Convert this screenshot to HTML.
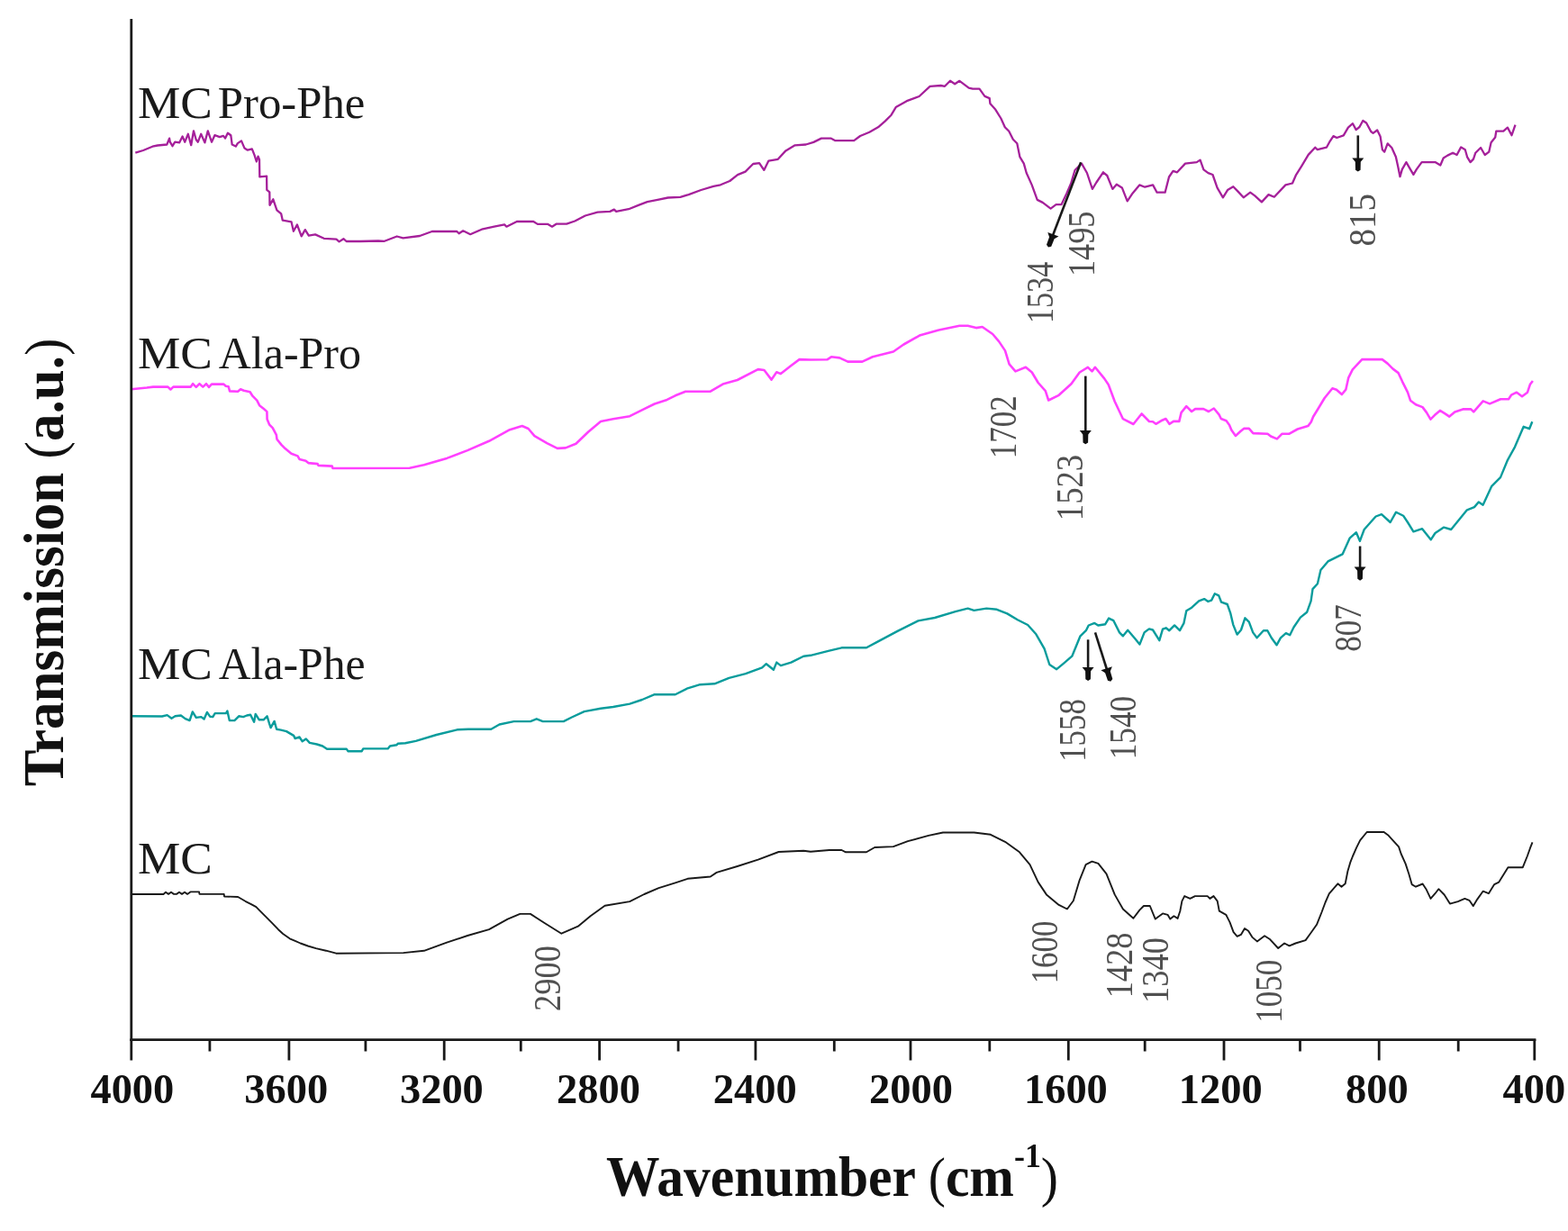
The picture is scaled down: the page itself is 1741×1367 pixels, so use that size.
<!DOCTYPE html>
<html><head><meta charset="utf-8"><title>FTIR spectra</title>
<style>html,body{margin:0;padding:0;background:#fff;width:1741px;height:1367px;overflow:hidden}svg{display:block}</style>
</head><body>
<svg width="1741" height="1367" viewBox="0 0 1741 1367">
<rect width="100%" height="100%" fill="#fff"/>
<polyline points="150.3,169.6 159.0,167.0 169.3,162.7 175.0,161.5 185.3,160.5 188.1,153.6 188.8,157.7 191.5,162.2 194.3,157.7 199.1,158.4 202.6,151.5 205.3,157.7 208.8,148.8 212.2,161.2 215.0,145.3 217.7,155.0 219.8,157.7 223.2,148.8 227.4,158.4 230.8,145.3 235.0,157.7 238.4,150.2 243.9,152.2 248.0,150.9 250.1,153.6 252.9,147.7 256.3,150.2 257.7,160.5 261.8,162.6 263.9,159.1 268.0,156.4 271.5,164.6 274.9,166.7 279.8,165.3 282.5,172.2 284.8,179.5 286.6,173.6 288.0,177.1 288.3,196.4 296.1,195.6 296.3,210.9 299.3,213.3 299.5,227.8 303.3,221.3 307.4,233.4 312.2,237.4 313.8,244.7 323.5,246.3 325.9,256.8 329.9,249.5 334.7,262.4 338.8,255.1 342.8,261.6 350.0,260.4 359.7,264.8 373.4,265.6 376.6,268.4 381.4,265.2 384.6,268.0 400.0,268.0 420.0,267.5 426.9,267.8 440.7,262.5 447.6,264.3 466.0,262.0 479.7,257.0 507.3,257.0 509.6,259.3 514.2,256.3 522.2,260.2 534.9,254.7 548.7,251.7 560.1,249.4 562.4,251.7 573.9,246.0 592.3,246.0 596.9,248.9 608.4,248.9 613.0,251.7 617.6,248.7 629.1,248.7 638.3,245.5 649.8,239.5 663.5,235.6 677.3,234.9 681.9,232.6 684.2,234.9 698.0,232.2 709.5,227.6 718.7,224.1 730.2,221.8 741.7,219.5 755.4,218.8 764.6,216.1 778.4,211.0 792.2,206.9 800.0,205.3 810.3,201.0 819.0,194.1 827.6,190.6 836.2,182.0 843.1,181.1 848.3,188.9 853.4,178.6 863.8,176.8 872.4,167.4 882.7,161.3 894.8,160.5 903.4,157.9 912.0,153.6 922.4,153.6 927.5,156.2 948.2,156.2 955.1,151.0 965.4,146.7 975.8,140.7 982.7,134.6 989.6,127.7 994.7,119.1 1006.8,112.2 1020.6,107.0 1032.6,95.8 1044.7,95.0 1049.0,95.8 1055.0,89.8 1060.2,93.3 1065.4,89.8 1075.7,97.6 1080.0,98.7 1087.5,98.7 1093.4,106.9 1098.7,109.1 1099.4,115.1 1105.4,121.8 1111.4,131.5 1115.8,141.2 1120.3,145.7 1124.8,154.7 1129.3,159.2 1132.3,174.1 1136.8,181.6 1139.7,192.0 1145.7,205.4 1151.7,221.9 1157.7,224.9 1166.6,231.6 1172.6,227.1 1178.6,227.1 1184.5,214.4 1189.0,204.0 1193.5,189.0 1198.0,184.5 1201.0,181.6 1206.9,192.0 1212.9,209.9 1217.4,202.5 1224.9,191.3 1229.3,195.0 1235.3,209.9 1239.8,204.7 1245.8,208.4 1251.7,223.4 1257.7,214.4 1265.2,205.4 1271.2,207.7 1280.1,205.4 1284.6,213.7 1293.6,213.7 1298.0,196.5 1302.5,189.8 1307.0,191.3 1316.0,181.6 1328.8,180.1 1332.6,177.6 1336.4,188.3 1341.5,192.1 1346.5,194.0 1351.6,208.6 1357.9,219.3 1363.0,211.1 1369.3,207.3 1374.3,212.4 1380.7,219.3 1388.2,213.6 1393.3,217.4 1400.9,224.4 1408.5,216.1 1414.8,218.7 1427.4,205.4 1435.0,203.5 1438.8,194.7 1445.1,184.6 1452.7,171.9 1460.3,163.7 1462.8,166.2 1472.9,163.7 1476.7,156.8 1480.5,151.1 1484.3,153.0 1491.8,150.4 1496.9,141.6 1502.0,137.2 1505.7,144.1 1509.5,141.0 1513.3,134.0 1517.1,136.5 1522.2,146.0 1524.6,147.9 1529.2,144.5 1532.6,151.4 1534.9,166.3 1537.2,168.6 1540.7,159.4 1545.3,164.0 1549.9,174.3 1552.2,184.7 1554.5,196.2 1556.8,188.1 1561.4,180.1 1566.0,188.1 1569.4,193.9 1572.8,188.1 1578.6,180.1 1593.5,180.1 1599.3,183.5 1602.7,175.5 1607.3,172.6 1613.1,169.7 1617.6,172.0 1622.2,163.4 1626.8,166.3 1629.1,174.3 1632.6,180.1 1636.0,176.6 1638.3,169.7 1644.1,164.0 1648.7,172.0 1653.3,168.6 1655.6,158.2 1660.2,152.5 1661.3,145.6 1669.3,145.6 1673.9,141.6 1678.5,150.2 1682.5,138.7" fill="none" stroke="#a5209a" stroke-width="2.3" stroke-linejoin="round"/>
<polyline points="145.7,432.3 163.0,430.5 170.0,429.6 186.4,429.6 189.4,432.5 192.4,429.6 211.8,429.6 214.1,426.2 217.8,429.9 221.5,426.2 225.3,429.6 229.0,426.2 232.0,429.9 235.0,426.6 248.4,426.6 250.7,428.8 253.6,429.2 255.1,434.4 264.1,434.8 267.1,432.2 270.8,433.7 277.6,435.2 280.4,439.7 285.3,444.6 288.1,450.2 292.9,454.0 296.4,457.1 296.6,465.4 299.2,471.7 302.7,475.2 306.8,482.8 307.5,487.7 312.4,493.9 316.6,498.1 323.5,503.7 330.5,506.4 332.5,509.9 339.5,511.7 342.3,514.1 352.7,515.1 353.4,516.9 368.7,517.6 369.4,520.0 380.0,520.0 454.8,519.7 470.8,516.2 496.1,508.9 519.1,500.1 543.0,489.8 566.0,477.2 579.7,473.0 586.6,476.0 593.5,484.1 607.3,492.1 618.8,497.9 628.0,497.4 639.5,492.8 653.3,479.5 667.0,468.0 680.8,465.2 699.2,462.2 715.3,454.2 726.8,448.5 740.6,443.9 749.8,439.3 761.2,434.7 788.8,434.7 802.6,426.6 818.7,422.0 841.7,410.1 848.5,411.0 856.6,421.6 862.3,413.3 866.9,415.1 878.4,406.0 887.6,399.1 900.0,399.5 918.4,399.3 923.0,396.3 932.2,397.4 941.4,401.6 957.4,401.6 968.9,396.3 991.9,390.5 1003.4,382.5 1021.8,372.2 1042.4,366.4 1065.4,361.8 1074.6,361.8 1083.8,364.1 1090.7,363.0 1102.2,371.0 1109.1,379.1 1116.0,389.4 1120.6,404.3 1127.5,412.4 1138.9,407.8 1145.8,413.5 1152.7,425.0 1160.8,434.2 1164.2,444.5 1175.7,438.8 1189.5,426.2 1198.7,413.5 1207.9,407.8 1212.5,412.4 1215.9,407.8 1226.2,420.4 1230.8,427.3 1237.7,445.7 1246.9,465.2 1258.4,471.0 1267.6,459.5 1276.0,468.0 1280.0,468.3 1283.4,470.8 1289.2,467.3 1294.4,465.0 1298.4,470.8 1303.0,467.9 1309.3,467.9 1311.6,458.1 1317.3,451.2 1323.1,457.0 1327.1,454.1 1336.3,454.1 1342.0,457.0 1347.8,453.5 1353.5,460.4 1355.8,465.0 1361.6,467.3 1365.0,471.9 1367.3,477.6 1371.9,484.0 1377.6,478.8 1381.1,475.9 1386.8,475.9 1391.4,481.1 1407.5,481.7 1411.0,484.5 1417.9,487.4 1423.6,481.7 1431.6,481.7 1440.8,476.5 1452.3,473.1 1455.8,468.5 1458.1,462.7 1463.8,453.5 1470.7,442.0 1479.4,431.2 1483.9,432.7 1489.9,438.0 1494.3,432.7 1497.3,419.3 1501.8,410.3 1512.3,399.1 1534.7,399.1 1540.6,403.6 1546.6,409.6 1552.6,414.1 1557.1,423.8 1563.0,435.7 1566.0,444.7 1572.0,449.2 1579.5,452.1 1584.0,458.1 1588.4,465.6 1592.9,461.1 1598.9,455.9 1604.9,459.6 1609.3,462.6 1615.3,457.4 1624.3,454.4 1633.2,454.4 1636.2,457.4 1646.7,445.4 1654.1,448.4 1666.1,443.2 1675.0,443.2 1678.0,438.7 1684.0,435.7 1690.0,440.2 1696.0,435.7 1699.0,426.7 1701.9,423.0" fill="none" stroke="#ff40ff" stroke-width="2.6" stroke-linejoin="round"/>
<polyline points="145.7,795.3 180.0,795.5 185.6,794.1 190.5,797.7 194.5,795.3 200.9,794.5 205.7,798.1 210.6,800.1 213.8,790.5 217.8,796.9 223.4,796.1 226.6,798.5 229.9,790.9 233.1,795.7 236.3,796.1 238.7,792.1 250.8,792.1 252.4,789.6 254.8,800.1 260.4,800.1 265.2,795.3 270.1,796.1 274.1,794.5 278.1,793.7 282.1,801.7 283.7,792.9 287.8,799.3 292.6,799.3 296.6,795.3 299.0,803.3 300.6,808.1 304.6,800.9 307.1,809.8 311.9,810.6 318.0,812.1 326.1,816.9 327.7,820.1 332.5,818.5 335.7,823.3 339.8,820.5 343.8,824.9 351.8,826.5 358.2,828.5 363.1,831.8 384.8,831.8 386.4,834.2 401.7,834.2 403.3,831.4 430.6,831.4 433.0,828.5 440.3,827.3 441.9,825.7 450.0,825.2 461.7,822.9 484.6,816.0 507.6,810.3 520.0,809.8 545.3,809.8 554.5,804.5 570.5,801.1 588.9,801.1 595.8,798.3 602.7,801.1 625.7,801.1 634.9,796.5 648.7,790.1 667.0,786.8 680.8,785.0 699.2,781.6 713.0,777.0 726.8,771.2 749.8,771.2 763.5,764.3 777.3,760.2 793.4,759.3 809.5,752.8 827.9,748.2 846.2,741.4 850.8,737.2 858.9,743.7 862.3,735.6 866.9,739.1 878.4,735.6 892.2,728.7 900.0,727.8 920.7,722.7 934.5,719.3 962.0,719.3 973.5,713.1 996.5,700.9 1019.5,689.4 1037.9,686.0 1060.8,679.1 1074.6,675.6 1081.5,677.9 1095.3,675.6 1106.8,676.8 1118.3,681.4 1129.8,688.2 1141.2,694.0 1150.4,704.3 1159.6,720.4 1165.3,738.0 1173.2,743.2 1181.1,736.6 1190.3,728.7 1199.5,706.3 1206.1,699.8 1208.7,694.5 1215.3,691.9 1219.3,694.5 1227.2,693.2 1231.1,686.6 1236.4,689.2 1243.0,702.4 1246.9,706.3 1252.2,699.8 1260.1,709.0 1265.4,715.6 1270.6,702.4 1275.9,698.4 1280.0,699.5 1287.3,711.2 1291.0,698.7 1294.6,697.3 1298.3,700.2 1304.1,694.4 1310.0,700.2 1314.4,692.2 1317.3,678.3 1322.4,675.3 1331.2,667.3 1337.1,665.1 1341.4,668.0 1345.1,666.6 1348.8,659.2 1353.2,661.4 1356.1,668.7 1362.7,671.0 1366.3,681.2 1369.2,693.6 1373.6,704.6 1378.0,699.5 1382.4,686.3 1386.8,690.7 1391.2,702.4 1395.6,708.3 1402.9,700.2 1407.3,700.2 1411.7,708.3 1417.5,716.3 1421.9,708.3 1427.8,703.1 1432.2,705.3 1436.5,696.5 1443.9,685.6 1451.2,679.7 1455.6,667.3 1457.5,654.1 1462.9,648.3 1466.4,633.1 1474.5,623.4 1484.1,618.6 1490.6,615.4 1498.6,597.7 1505.9,591.2 1509.9,600.9 1514.7,588.0 1527.6,573.5 1534.0,571.1 1543.7,580.0 1550.1,568.7 1558.1,572.7 1563.0,580.0 1569.4,590.4 1579.1,587.2 1588.7,599.3 1593.5,592.0 1603.2,585.6 1611.2,588.0 1628.9,566.3 1637.0,563.1 1641.8,557.5 1646.6,560.7 1656.3,539.8 1666.0,530.1 1674.0,510.8 1682.0,496.3 1691.7,473.8 1698.1,476.2 1701.3,468.2" fill="none" stroke="#0a9c9c" stroke-width="2.4" stroke-linejoin="round"/>
<polyline points="145.7,993.0 181.5,993.0 184.0,990.8 187.0,992.9 190.0,990.8 193.0,992.9 196.0,992.9 199.0,990.8 202.0,992.9 205.0,990.8 208.0,992.9 211.4,990.4 221.1,990.4 221.5,992.9 248.7,992.9 249.0,995.5 264.2,996.0 272.4,1000.8 278.4,1003.8 284.4,1007.2 288.8,1011.7 294.8,1017.6 301.5,1024.4 309.0,1032.2 314.2,1037.0 321.7,1042.3 327.7,1044.9 333.6,1047.5 341.9,1050.5 350.8,1053.1 362.0,1055.7 373.2,1058.7 447.9,1058.1 470.8,1055.8 496.1,1046.6 519.1,1039.0 543.0,1032.1 563.7,1020.6 577.4,1014.9 588.9,1014.9 605.0,1025.2 623.4,1036.7 641.8,1028.7 655.6,1017.2 671.6,1005.7 699.2,1001.1 715.3,993.0 731.4,986.2 749.8,980.4 763.5,975.8 788.8,973.5 795.7,968.9 818.7,962.0 841.7,954.7 864.6,946.0 892.2,944.8 900.0,945.8 920.7,944.0 934.5,944.0 939.1,946.3 962.0,946.3 971.2,941.0 991.9,940.1 1008.0,934.1 1031.0,927.9 1047.0,924.5 1081.5,924.5 1099.9,926.8 1116.0,934.8 1132.0,946.3 1143.5,960.1 1152.7,979.6 1161.9,993.4 1175.7,1004.9 1184.9,1009.5 1191.8,1000.3 1198.7,977.3 1205.6,960.1 1212.5,956.6 1219.4,958.9 1228.5,970.4 1237.7,993.4 1246.9,1009.5 1258.4,1019.8 1265.3,1010.6 1269.9,1006.0 1276.8,1006.0 1282.8,1020.6 1291.0,1014.4 1296.5,1015.8 1299.3,1020.6 1303.4,1017.2 1307.6,1019.9 1310.3,1011.7 1312.4,1000.6 1315.2,995.1 1321.4,997.9 1326.9,995.1 1340.7,995.1 1343.4,997.9 1347.5,995.1 1351.7,1000.6 1353.8,1011.7 1361.3,1015.8 1365.5,1024.1 1369.6,1035.1 1373.7,1039.9 1377.9,1037.9 1382.0,1031.0 1386.1,1033.7 1390.3,1040.6 1395.8,1045.4 1404.1,1039.2 1409.6,1042.7 1419.2,1053.0 1426.1,1047.5 1431.6,1050.3 1438.5,1047.5 1449.6,1044.1 1455.1,1036.5 1462.0,1026.8 1467.5,1013.0 1471.6,1002.0 1475.8,992.4 1485.4,981.3 1489.5,984.8 1493.7,981.3 1496.4,967.5 1499.2,957.9 1501.9,951.0 1506.1,941.4 1510.2,933.1 1517.7,924.0 1536.6,924.0 1541.7,927.8 1553.1,940.4 1555.6,948.0 1560.7,959.4 1564.4,970.8 1567.6,982.1 1572.0,984.7 1579.6,981.5 1583.4,987.2 1588.5,997.9 1593.5,992.2 1597.3,987.2 1603.6,993.5 1609.9,1003.6 1618.8,1001.1 1626.4,997.9 1631.4,999.8 1635.8,1006.1 1640.3,998.6 1646.6,989.7 1652.9,992.2 1659.2,982.1 1664.3,979.6 1674.4,963.2 1690.8,963.2 1695.9,950.5 1699.0,941.7 1701.5,935.4" fill="none" stroke="#1a1a1a" stroke-width="1.9" stroke-linejoin="round"/>
<g stroke="#1a1a1a" stroke-width="2.8" fill="none">
<line x1="145.8" y1="21" x2="145.8" y2="1156"/>
<line x1="144.4" y1="1154.6" x2="1705.4" y2="1154.6"/>
<line x1="145.8" y1="1154" x2="145.8" y2="1177.5"/>
<line x1="320.9" y1="1154" x2="320.9" y2="1177.5"/>
<line x1="493.2" y1="1154" x2="493.2" y2="1177.5"/>
<line x1="665.6" y1="1154" x2="665.6" y2="1177.5"/>
<line x1="838.9" y1="1154" x2="838.9" y2="1177.5"/>
<line x1="1011.0" y1="1154" x2="1011.0" y2="1177.5"/>
<line x1="1186.3" y1="1154" x2="1186.3" y2="1177.5"/>
<line x1="1359.0" y1="1154" x2="1359.0" y2="1177.5"/>
<line x1="1531.2" y1="1154" x2="1531.2" y2="1177.5"/>
<line x1="1703.8" y1="1154" x2="1703.8" y2="1177.5"/>
<line x1="232.9" y1="1154" x2="232.9" y2="1167.5"/>
<line x1="405.9" y1="1154" x2="405.9" y2="1167.5"/>
<line x1="578.3" y1="1154" x2="578.3" y2="1167.5"/>
<line x1="753.1" y1="1154" x2="753.1" y2="1167.5"/>
<line x1="926.3" y1="1154" x2="926.3" y2="1167.5"/>
<line x1="1098.8" y1="1154" x2="1098.8" y2="1167.5"/>
<line x1="1271.2" y1="1154" x2="1271.2" y2="1167.5"/>
<line x1="1443.5" y1="1154" x2="1443.5" y2="1167.5"/>
<line x1="1619.2" y1="1154" x2="1619.2" y2="1167.5"/>
</g>
<g font-family="'Liberation Serif', serif" font-weight="bold" font-size="46" fill="#111" text-anchor="middle">
<text transform="translate(146.85,1224.5) scale(1.01,1)">4000</text>
<text transform="translate(317.80,1224.5) scale(1.01,1)">3600</text>
<text transform="translate(490.40,1224.5) scale(1.01,1)">3200</text>
<text transform="translate(664.50,1224.5) scale(1.01,1)">2800</text>
<text transform="translate(838.30,1224.5) scale(1.01,1)">2400</text>
<text transform="translate(1011.55,1224.5) scale(1.01,1)">2000</text>
<text transform="translate(1183.40,1224.5) scale(1.01,1)">1600</text>
<text transform="translate(1355.20,1224.5) scale(1.01,1)">1200</text>
<text transform="translate(1528.80,1224.5) scale(1.01,1)">800</text>
<text transform="translate(1703.30,1224.5) scale(1.01,1)">400</text>
</g>
<text transform="translate(673,1327.5) scale(0.945,1)" font-family="'Liberation Serif', serif" font-weight="bold" font-size="63" fill="#111">Wavenumber <tspan font-weight="normal" font-size="61">(</tspan>cm<tspan font-size="38" dy="-32">-1</tspan><tspan dy="32" font-weight="normal" font-size="61">)</tspan></text>
<text transform="translate(70,873.3) rotate(-90) scale(0.955,1)" font-family="'Liberation Serif', serif" font-weight="bold" font-size="64" fill="#111">Transmission <tspan font-weight="normal" font-size="61">(</tspan>a.u.<tspan font-weight="normal" font-size="61">)</tspan></text>
<g font-family="'Liberation Serif', serif" font-size="50" fill="#1a1a1a">
<text transform="translate(153.0,130.7) scale(1.066,1)">MC</text>
<text transform="translate(241.8,130.7) scale(1.015,1)">Pro-Phe</text>
<text transform="translate(153.0,409.0) scale(1.066,1)">MC</text>
<text transform="translate(242.7,409.0) scale(1.0,1)">Ala-Pro</text>
<text transform="translate(153.0,754.0) scale(1.066,1)">MC</text>
<text transform="translate(242.7,754.0) scale(0.995,1)">Ala-Phe</text>
<text transform="translate(153.0,970.0) scale(1.066,1)">MC</text>
</g>
<g transform="translate(1164.1,274.1) rotate(20.98)"><line x1="0" y1="-100.6" x2="0" y2="-13" stroke="#1a1a1a" stroke-width="2.6"/><polygon points="-6.5,-14.8 6.5,-14.8 3,-10.5 2.8,-1.5 0,0.4 -2.8,-1.5 -3,-10.5" fill="#111"/></g>
<g transform="translate(1507.8,190.2) rotate(0.00)"><line x1="0" y1="-39.8" x2="0" y2="-13" stroke="#1a1a1a" stroke-width="2.6"/><polygon points="-6.5,-14.8 6.5,-14.8 3,-10.5 2.8,-1.5 0,0.4 -2.8,-1.5 -3,-10.5" fill="#111"/></g>
<g transform="translate(1205.3,492.9) rotate(0.00)"><line x1="0" y1="-75.3" x2="0" y2="-13" stroke="#1a1a1a" stroke-width="2.6"/><polygon points="-6.5,-14.8 6.5,-14.8 3,-10.5 2.8,-1.5 0,0.4 -2.8,-1.5 -3,-10.5" fill="#111"/></g>
<g transform="translate(1208.1,755.7) rotate(0.00)"><line x1="0" y1="-45.4" x2="0" y2="-13" stroke="#1a1a1a" stroke-width="2.6"/><polygon points="-6.5,-14.8 6.5,-14.8 3,-10.5 2.8,-1.5 0,0.4 -2.8,-1.5 -3,-10.5" fill="#111"/></g>
<g transform="translate(1233.1,756.4) rotate(-17.57)"><line x1="0" y1="-56.6" x2="0" y2="-13" stroke="#1a1a1a" stroke-width="2.6"/><polygon points="-6.5,-14.8 6.5,-14.8 3,-10.5 2.8,-1.5 0,0.4 -2.8,-1.5 -3,-10.5" fill="#111"/></g>
<g transform="translate(1510.1,644.3) rotate(0.00)"><line x1="0" y1="-37.8" x2="0" y2="-13" stroke="#1a1a1a" stroke-width="2.6"/><polygon points="-6.5,-14.8 6.5,-14.8 3,-10.5 2.8,-1.5 0,0.4 -2.8,-1.5 -3,-10.5" fill="#111"/></g>
<g font-family="'Liberation Serif', serif" font-size="43" fill="#505050" text-anchor="middle">
<text transform="translate(1168.8,324.9) rotate(-90) scale(0.795,1)">1534</text>
<text transform="translate(1215.0,270.8) rotate(-90) scale(0.844,1)">1495</text>
<text transform="translate(1527.3,244.2) rotate(-90) scale(0.908,1)">815</text>
<text transform="translate(1127.5,474.2) rotate(-90) scale(0.814,1)">1702</text>
<text transform="translate(1202.0,541.5) rotate(-90) scale(0.853,1)">1523</text>
<text transform="translate(1204.8,811.0) rotate(-90) scale(0.809,1)">1558</text>
<text transform="translate(1261.4,808.1) rotate(-90) scale(0.818,1)">1540</text>
<text transform="translate(1511.2,697.5) rotate(-90) scale(0.815,1)">807</text>
<text transform="translate(622.2,1086.4) rotate(-90) scale(0.849,1)">2900</text>
<text transform="translate(1174.1,1057.5) rotate(-90) scale(0.811,1)">1600</text>
<text transform="translate(1256.5,1071.9) rotate(-90) scale(0.848,1)">1428</text>
<text transform="translate(1297.3,1077.5) rotate(-90) scale(0.849,1)">1340</text>
<text transform="translate(1423.2,1100.8) rotate(-90) scale(0.814,1)">1050</text>
</g>
</svg>
</body></html>
